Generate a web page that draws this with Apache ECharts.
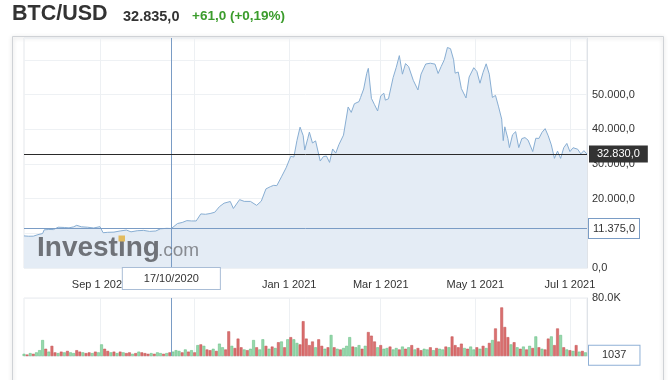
<!DOCTYPE html>
<html>
<head>
<meta charset="utf-8">
<script src="https://cdn.jsdelivr.net/npm/echarts@6/dist/echarts.min.js"></script>
<style>
html,body{margin:0;padding:0;background:#fff;}
#chart{width:670px;height:380px;}
</style>
</head>
<body>
<div id="chart"></div>
<script>
// ---- header texts ----
const symbolName = 'BTC/USD';
const lastQuote = '32.835,0';
const changeText = '+61,0 (+0,19%)';

// ---- axis range ----
const firstDay = '2020-07-14';
const lastDay = '2021-07-12';
const priceTicks = [0, 20000, 30000, 40000, 50000];
const volumeTickLabel = '80.0K';

// ---- crosshair / reference lines ----
const lastPrice = 32830;
const crossDate = '2020-10-17';
const crossPrice = 11375;
const crossVolume = 1037;

// ---- price (daily close samples) ----
const priceDates = [
'2020-07-14','2020-07-17','2020-07-20','2020-07-23','2020-07-26','2020-07-27','2020-07-30','2020-08-02','2020-08-05','2020-08-09',
'2020-08-12','2020-08-15','2020-08-17','2020-08-20','2020-08-24','2020-08-28','2020-09-01','2020-09-03','2020-09-06','2020-09-10',
'2020-09-14','2020-09-18','2020-09-21','2020-09-25','2020-09-29','2020-10-03','2020-10-07','2020-10-10','2020-10-14','2020-10-17',
'2020-10-21','2020-10-24','2020-10-27','2020-10-30','2020-11-02','2020-11-05','2020-11-08','2020-11-11','2020-11-14','2020-11-17',
'2020-11-20','2020-11-24','2020-11-26','2020-11-30','2020-12-03','2020-12-07','2020-12-11','2020-12-14','2020-12-17','2020-12-20',
'2020-12-22','2020-12-24','2020-12-27','2020-12-30','2021-01-02','2021-01-04','2021-01-06','2021-01-08','2021-01-10','2021-01-11',
'2021-01-13','2021-01-14','2021-01-16','2021-01-18','2021-01-21','2021-01-23','2021-01-25','2021-01-27','2021-01-29','2021-01-31',
'2021-02-02','2021-02-05','2021-02-08','2021-02-10','2021-02-12','2021-02-15','2021-02-16','2021-02-18','2021-02-20','2021-02-21',
'2021-02-23','2021-02-25','2021-02-27','2021-03-01','2021-03-03','2021-03-04','2021-03-06','2021-03-09','2021-03-11','2021-03-13',
'2021-03-15','2021-03-17','2021-03-19','2021-03-22','2021-03-25','2021-03-27','2021-03-30','2021-04-02','2021-04-05','2021-04-07',
'2021-04-09','2021-04-11','2021-04-13','2021-04-15','2021-04-17','2021-04-18','2021-04-20','2021-04-22','2021-04-25','2021-04-27',
'2021-04-30','2021-05-02','2021-05-04','2021-05-06','2021-05-08','2021-05-10','2021-05-12','2021-05-14','2021-05-16','2021-05-18',
'2021-05-19','2021-05-20','2021-05-22','2021-05-23','2021-05-25','2021-05-27','2021-05-29','2021-05-31','2021-06-02','2021-06-04',
'2021-06-07','2021-06-09','2021-06-11','2021-06-13','2021-06-15','2021-06-17','2021-06-19','2021-06-21','2021-06-23','2021-06-25',
'2021-06-27','2021-06-29','2021-07-01','2021-07-03','2021-07-06','2021-07-08','2021-07-10','2021-07-12'
];
const priceValues = [
9250,9150,9170,9610,9930,11000,11100,11070,11750,11680,
11570,11860,12300,11870,11750,11530,11920,10170,10280,10340,
10680,10930,10420,10740,10840,10550,10670,11300,11430,11375,
12820,13120,13650,13560,13550,15590,15480,15700,16070,17680,
18680,19160,17150,19700,19200,19190,18050,19280,22800,23470,
23820,23730,26270,28880,32190,31970,36770,40600,38150,34000,
37390,39150,36020,36630,30830,32100,32270,30430,34300,33110,
35520,38290,46400,44840,47320,47950,49130,51570,56100,57540,
48890,47050,45250,49590,50370,48370,48760,54880,57800,61200,
55860,58910,58020,54080,51300,55860,58780,59010,58750,56050,
58090,60000,63540,63200,60000,56150,56470,51700,49000,55030,
57720,56620,53250,56400,58840,55860,49150,49740,46430,42900,
36700,40680,37280,34700,38400,39290,34700,37300,37580,36850,
33560,37390,37340,39100,40160,38100,35480,31600,33680,31590,
34660,35900,33540,34660,34230,32870,33820,32830
];

// ---- volume (thousands), one bar every second day from firstDay ----
const volumeValues = [
3,2,4,3,5,8,22,10,6,14,
5,4,6,5,7,5,4,8,6,5,
4,5,4,6,5,16,10,7,5,6,
4,6,5,4,5,3,4,6,5,4,
3,4,3,5,4,3,4,5,6,8,
7,5,9,6,8,5,15,16,14,9,
8,10,7,17,12,9,34,14,11,24,
12,9,8,10,22,12,9,23,14,10,
13,11,19,20,12,23,26,23,18,16,
48,24,15,20,12,23,14,10,12,29,
12,10,9,11,14,26,13,12,15,10,
14,33,28,20,12,15,10,11,13,9,
11,9,13,10,12,15,9,11,8,10,
9,12,8,11,10,9,13,12,27,15,
12,17,11,10,13,9,12,10,14,11,
18,22,38,20,67,40,26,16,19,12,
10,13,9,14,11,27,12,10,9,24,
27,15,38,29,12,9,8,7,15,6,
7,5
];
// u = up day (green bar), d = down day (red bar); one letter per volume bar
const volumeDirection = [
'u d u d u u u d u d',
'd u d u d u u d d u',
'd d u d u u d d u d',
'u d u d d u d u d d',
'd u d u u d u d u u',
'u d u d u d u d u d',
'd u d u u d d u d d',
'd u d u u d u u d u',
'd u d u d u d u u d',
'd d d d u d d u d u',
'd u d u u u d u u d',
'u d d d u d u u d u',
'u d u d u d u d d u',
'u d u d u u d u d d',
'd d u d u u d u d u',
'd u d d d d d u d u',
'd u d u d u d u d d',
'u d d u d u d u d u',
'd u'
].join(' ').split(' ');

// ---- helpers ----
const MONTHS = ['Jan','Feb','Mar','Apr','May','Jun','Jul','Aug','Sep','Oct','Nov','Dec'];
function fmtPrice(v) {
  return String(Math.round(v)).replace(/\B(?=(\d{3})+(?!\d))/g, '.') + ',0';
}
function fmtDate(s) {
  return MONTHS[+s.slice(5, 7) - 1] + ' ' + (+s.slice(8, 10)) + ' ' + s.slice(0, 4);
}
function fmtCross(s) {
  return s.slice(8, 10) + '/' + s.slice(5, 7) + '/' + s.slice(0, 4);
}
const days = [];
for (let t = Date.parse(firstDay + 'T00:00:00Z'); t <= Date.parse(lastDay + 'T00:00:00Z'); t += 86400000) {
  days.push(new Date(t).toISOString().slice(0, 10));
}
const isLabelDay = (i, v) => v.slice(8) === '01' && ['01','03','05','07','09'].indexOf(v.slice(5, 7)) >= 0;
const isGridDay = (i, v) => v.slice(8) === '01' && (+v.slice(5, 7)) % 2 === 1;

const priceData = priceDates.map((d, i) => [d, priceValues[i]]);
const upColor = '#98d8ac', upBorder = '#5fbb7e';
const downColor = '#da7070', downBorder = '#c24e4e';
const volumeData = volumeValues.map((v, i) => {
  const up = volumeDirection[i] === 'u';
  return {
    value: [days[i * 2], v],
    itemStyle: { color: up ? upColor : downColor, borderColor: up ? upBorder : downBorder, borderWidth: 0.5 }
  };
});

const FONT = '"Liberation Sans", Arial, sans-serif';
const crossColor = '#7a9cc5';

const chart = echarts.init(document.getElementById('chart'), null, { renderer: 'canvas' });
chart.setOption({
  animation: false,
  backgroundColor: '#fff',
  textStyle: { fontFamily: FONT },
  grid: [
    { left: 24, right: 83, top: 38, bottom: 112, show: true, borderColor: '#e4e7eb', borderWidth: 1 },
    { left: 24, right: 83, top: 298, bottom: 24, show: true, borderColor: '#e8ebee', borderWidth: 1 }
  ],
  xAxis: [
    {
      type: 'category', gridIndex: 0, data: days, boundaryGap: false,
      axisLine: { show: false }, axisTick: { show: false },
      axisLabel: { interval: isLabelDay, formatter: fmtDate, margin: 11, fontSize: 11, color: '#333', fontFamily: FONT },
      splitLine: { show: true, interval: isGridDay, lineStyle: { color: '#edf0f3', width: 1 } }
    },
    {
      type: 'category', gridIndex: 1, data: days, boundaryGap: false,
      axisLine: { show: false }, axisTick: { show: false }, axisLabel: { show: false },
      splitLine: { show: true, interval: isGridDay, lineStyle: { color: '#edf0f3', width: 1 } }
    }
  ],
  yAxis: [
    {
      type: 'value', gridIndex: 0, position: 'right', min: 0, max: 66280, interval: 10000,
      axisLine: { show: true, lineStyle: { color: '#dfe3e8' } }, axisTick: { show: false },
      splitLine: { lineStyle: { color: '#eef1f4' } },
      axisLabel: {
        margin: 5, fontSize: 11, color: '#333', fontFamily: FONT,
        formatter: v => priceTicks.indexOf(v) >= 0 ? fmtPrice(v) : ''
      }
    },
    {
      type: 'value', gridIndex: 1, position: 'right', min: 0, max: 80, interval: 80,
      axisLine: { show: true, lineStyle: { color: '#dfe3e8' } }, axisTick: { show: false },
      splitLine: { lineStyle: { color: '#f0f2f5' } },
      axisLabel: { margin: 5, fontSize: 11, color: '#333', fontFamily: FONT, formatter: v => v === 80 ? volumeTickLabel : '' }
    }
  ],
  series: [
    {
      type: 'line', xAxisIndex: 0, yAxisIndex: 0, data: priceData,
      symbol: 'none', smooth: false,
      lineStyle: { color: '#88aed3', width: 1 },
      areaStyle: { color: '#e4ecf5', opacity: 1 },
      markLine: {
        symbol: 'none', silent: true, animation: false,
        data: [
          { yAxis: crossPrice, lineStyle: { color: crossColor, width: 1, type: 'solid' },
            label: { show: true, position: 'end', distance: 2, formatter: fmtPrice(crossPrice), fontSize: 11, color: '#333',
              backgroundColor: '#fff', borderColor: crossColor, borderWidth: 1, padding: [4, 4, 4, 4], fontFamily: FONT } },
          { xAxis: crossDate, lineStyle: { color: crossColor, width: 1, type: 'solid' },
            label: { show: true, position: 'start', distance: 0, formatter: fmtCross(crossDate), fontSize: 11, color: '#333',
              backgroundColor: '#fff', borderColor: '#a9bdd6', borderWidth: 1, padding: [5, 21, 5, 21], fontFamily: FONT } },
          { yAxis: lastPrice, lineStyle: { color: '#2a2a2a', width: 1, type: 'solid' },
            label: { show: true, position: 'end', distance: 2, formatter: fmtPrice(lastPrice), fontSize: 11, color: '#fff',
              backgroundColor: '#333', padding: [3, 8, 3, 8], fontFamily: FONT } }
        ]
      }
    },
    {
      type: 'bar', xAxisIndex: 1, yAxisIndex: 1, data: volumeData, barWidth: 2.8,
      markLine: {
        symbol: 'none', silent: true, animation: false,
        data: [
          { xAxis: crossDate, lineStyle: { color: crossColor, width: 1, type: 'solid' }, label: { show: false } },
          { yAxis: crossVolume / 1000, lineStyle: { color: 'rgba(0,0,0,0)', width: 0 },
            label: { show: true, position: 'end', distance: 2, formatter: String(crossVolume), fontSize: 11, color: '#333',
              backgroundColor: '#fff', borderColor: '#8fb0d6', borderWidth: 1, padding: [4, 13, 4, 13], fontFamily: FONT } }
        ]
      }
    }
  ],
  graphic: [
    { type: 'rect', z: -10, silent: true, shape: { x: 12.5, y: 36.5, width: 651, height: 360 },
      style: { fill: 'none', stroke: '#cfd2d6', lineWidth: 1, shadowBlur: 4, shadowColor: 'rgba(0,0,0,0.22)', shadowOffsetY: 1 } },
    { type: 'text', x: 12, y: 14, silent: true,
      style: { text: symbolName, font: 'bold 21.5px ' + FONT, fill: '#333', verticalAlign: 'middle' } },
    { type: 'text', x: 123, y: 16.5, silent: true,
      style: { text: lastQuote, font: 'bold 14.5px ' + FONT, fill: '#333', verticalAlign: 'middle' } },
    { type: 'text', x: 192, y: 16.5, silent: true,
      style: { text: changeText, font: 'bold 13.5px ' + FONT, fill: '#3b9c2c', verticalAlign: 'middle' } },
    { type: 'text', x: 37, y: 248, z: 10, silent: true,
      style: { text: 'Investing', font: 'bold 28px ' + FONT, fill: 'rgba(98,101,106,0.9)', verticalAlign: 'middle' } },
    { type: 'text', x: 158, y: 251, z: 10, silent: true,
      style: { text: '.com', font: '19px ' + FONT, fill: 'rgba(112,115,120,0.8)', verticalAlign: 'middle' } },
    { type: 'rect', z: 11, silent: true, shape: { x: 118.5, y: 235.5, width: 6.5, height: 6 },
      style: { fill: '#e2bb5e' } }
  ]
});
</script>
</body>
</html>
